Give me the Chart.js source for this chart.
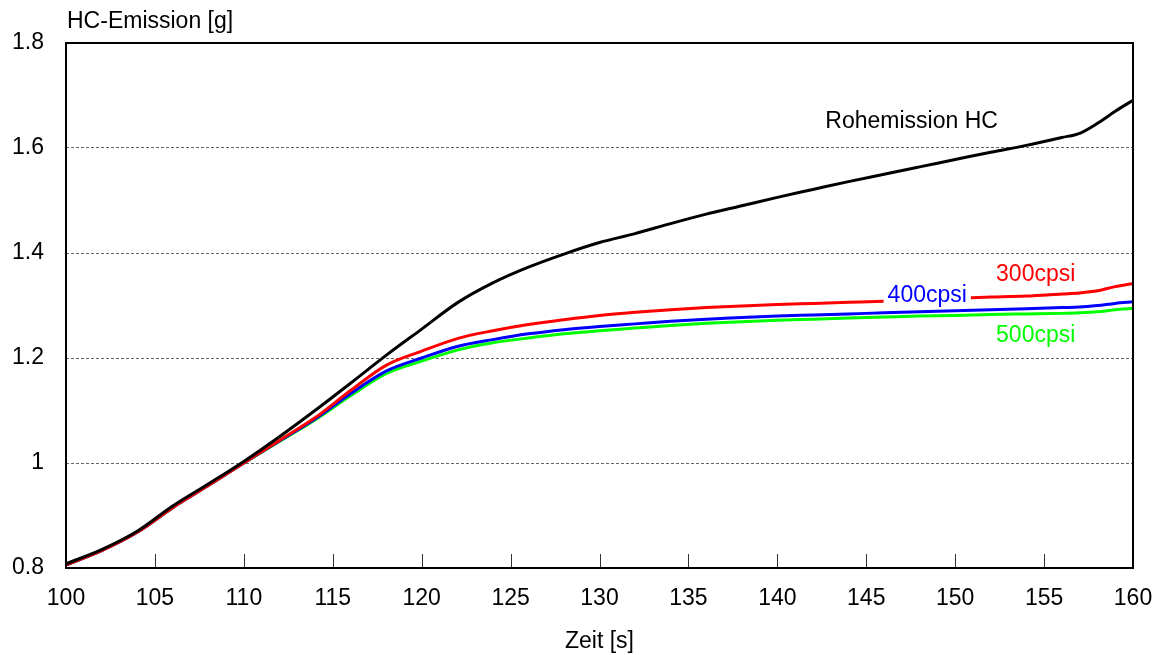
<!DOCTYPE html>
<html>
<head>
<meta charset="utf-8">
<script src="https://cdn.jsdelivr.net/npm/chart.js@4/dist/chart.umd.min.js"></script>
<style>
  html, body { margin: 0; padding: 0; background: #fff; }
  #wrap { width: 1161px; height: 655px; }
</style>
</head>
<body>
<div id="wrap"><canvas id="hc"></canvas></div>
<script>
// time axis (s)
const zeit = [100, 102, 104, 106, 108, 110, 112, 114, 116, 118, 120, 122, 124, 126, 128, 130,
  132, 134, 136, 138, 140, 142, 144, 146, 148, 150, 152, 154, 156, 157, 158, 159, 160];

// cumulative HC emission (g)
const rohemission = [0.808, 0.835, 0.870, 0.918, 0.960, 1.003, 1.050, 1.100, 1.152, 1.205, 1.255, 1.305,
  1.343, 1.373, 1.398, 1.420, 1.437, 1.456, 1.474, 1.490, 1.506, 1.521, 1.536, 1.550, 1.564, 1.578,
  1.592, 1.605, 1.620, 1.628, 1.647, 1.670, 1.691];
const cpsi300 = [0.806, 0.833, 0.868, 0.915, 0.957, 1.000, 1.043, 1.086, 1.138, 1.186, 1.213, 1.237,
  1.252, 1.264, 1.273, 1.281, 1.287, 1.292, 1.296, 1.299, 1.302, 1.304, 1.306, 1.308, 1.311, 1.314,
  1.316, 1.318, 1.322, 1.324, 1.328, 1.336, 1.342];
const cpsi400 = [0.806, 0.833, 0.868, 0.915, 0.957, 1.000, 1.042, 1.084, 1.132, 1.175, 1.200, 1.222,
  1.235, 1.246, 1.254, 1.260, 1.265, 1.270, 1.274, 1.277, 1.280, 1.282, 1.284, 1.286, 1.288, 1.290,
  1.292, 1.294, 1.296, 1.297, 1.300, 1.304, 1.307];
const cpsi500 = [0.806, 0.833, 0.868, 0.915, 0.957, 1.000, 1.041, 1.082, 1.128, 1.170, 1.194, 1.215,
  1.229, 1.238, 1.246, 1.252, 1.257, 1.262, 1.266, 1.269, 1.272, 1.274, 1.276, 1.278, 1.280, 1.281,
  1.283, 1.284, 1.285, 1.286, 1.288, 1.292, 1.295];

const seriesNames = ['Rohemission HC', '300cpsi', '400cpsi', '500cpsi'];
const seriesColors = ['#000000', '#ff0000', '#0000ff', '#00ff00'];

// in-plot labels: text, x (s), y (g), white box behind
const labelText = ['Rohemission HC', '300cpsi', '400cpsi', '500cpsi'];
const labelX = [142.7, 152.3, 146.2, 152.3];
const labelY = [1.651, 1.358, 1.318, 1.242];
const labelBox = [false, false, true, false];

const FONT = '"Liberation Sans", Arial, sans-serif';
const FSIZE = 23;

function toPoints(ys) {
    return zeit.map((x, i) => ({ x: x, y: ys[i] }));
}

const frameAndTicks = {
    id: 'frameAndTicks',
    afterDatasetsDraw(chart) {
        const ctx = chart.ctx;
        const a = chart.chartArea;
        const xs = chart.scales.x;
        ctx.save();
        // inward tick marks on the bottom axis
        ctx.strokeStyle = '#333';
        ctx.lineWidth = 1;
        xs.ticks.forEach(t => {
            if (t.value <= xs.min || t.value >= xs.max) return;
            const px = Math.round(xs.getPixelForValue(t.value)) + 0.5;
            ctx.beginPath();
            ctx.moveTo(px, a.bottom);
            ctx.lineTo(px, a.bottom - 14);
            ctx.stroke();
        });
        // series labels
        ctx.font = FSIZE + 'px ' + FONT;
        ctx.textBaseline = 'middle';
        ctx.textAlign = 'left';
        labelText.forEach((txt, i) => {
            const px = xs.getPixelForValue(labelX[i]);
            const py = chart.scales.y.getPixelForValue(labelY[i]);
            if (labelBox[i]) {
                const w = ctx.measureText(txt).width;
                ctx.fillStyle = '#fff';
                ctx.fillRect(px - 4, py - 12, w + 8, 24);
            }
            ctx.fillStyle = seriesColors[seriesNames.indexOf(txt)];
            ctx.fillText(txt, px, py);
        });
        // frame
        ctx.strokeStyle = '#000';
        ctx.lineWidth = 2;
        ctx.strokeRect(a.left, a.top, a.right - a.left, a.bottom - a.top);
        // y axis title
        ctx.fillStyle = '#000';
        ctx.font = FSIZE + 'px ' + FONT;
        ctx.textBaseline = 'middle';
        ctx.fillText('HC-Emission [g]', a.left + 1, 22);
        ctx.restore();
    }
};

const datasets = seriesNames.map((name, i) => ({
    label: name,
    data: toPoints([rohemission, cpsi300, cpsi400, cpsi500][i]),
    borderColor: seriesColors[i],
    backgroundColor: seriesColors[i],
    borderWidth: 3,
    pointRadius: 0,
    cubicInterpolationMode: 'monotone',
    fill: false
}));

new Chart(document.getElementById('hc'), {
    type: 'line',
    data: { datasets: datasets },
    options: {
        responsive: true,
        maintainAspectRatio: false,
        animation: false,
        layout: { padding: { top: 43, right: 28, left: 0, bottom: 0 } },
        plugins: {
            legend: { display: false },
            tooltip: { enabled: false }
        },
        scales: {
            x: {
                type: 'linear',
                min: 100,
                max: 160,
                afterFit(scale) {
                    scale.height = 87;
                    scale.paddingLeft = 0;
                    scale.paddingRight = 0;
                },
                ticks: {
                    stepSize: 5,
                    padding: 17,
                    color: '#000',
                    font: { family: FONT, size: FSIZE }
                },
                grid: { display: false, drawTicks: false },
                border: { display: false },
                title: {
                    display: true,
                    text: 'Zeit [s]',
                    color: '#000',
                    font: { family: FONT, size: FSIZE },
                    padding: { top: 10, bottom: 0 }
                }
            },
            y: {
                min: 0.8,
                max: 1.8,
                afterFit(scale) { scale.width = 66; },
                ticks: {
                    stepSize: 0.2,
                    padding: 22,
                    color: '#000',
                    font: { family: FONT, size: FSIZE },
                    callback: v => String(Number(v.toFixed(1)))
                },
                grid: {
                    drawTicks: false,
                    color: ctx => (ctx.tick && (ctx.tick.value <= 0.8 || ctx.tick.value >= 1.8)) ? 'rgba(0,0,0,0)' : '#666',
                    lineWidth: 1
                },
                border: { display: false, dash: [3, 2] }
            }
        }
    },
    plugins: [frameAndTicks]
});
</script>
</body>
</html>
